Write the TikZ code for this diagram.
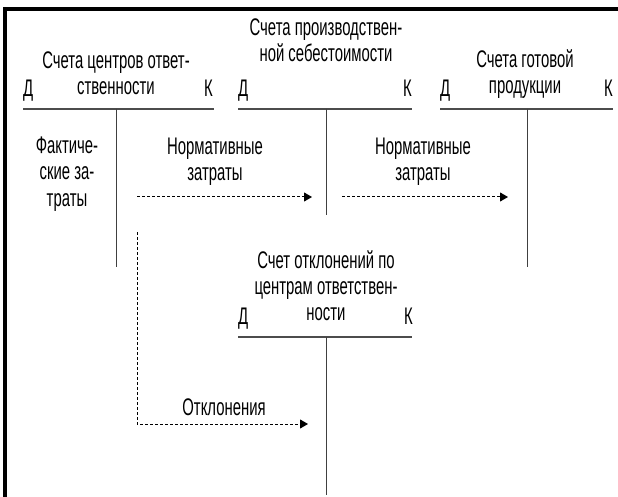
\documentclass[tikz,border=0pt]{standalone}
\usepackage{fontspec}
\setmainfont{Liberation Sans}[FakeStretch=0.62]
\usetikzlibrary{arrows.meta}
\begin{document}
\begin{tikzpicture}[x=1pt,y=-1pt,
 lbl/.style={inner sep=0pt, align=center, font=\fontsize{24}{26}\selectfont},
 dk/.style={inner sep=0pt, font=\fontsize{24}{26}\selectfont},
 tline/.style={draw=black!70, line width=1.6pt},
 vline/.style={draw=black!75, line width=0.9pt},
 flow/.style={draw=black, line width=1pt, dash pattern=on 3pt off 2pt, -{Triangle[length=8pt,width=9pt]}}
]
\useasboundingbox (0,0) rectangle (618,497);
\fill (3,7) rectangle (618,11);
\fill (3,7) rectangle (7,497);
% account 1
\coordinate (a1l) at (23,109); \coordinate (a1r) at (214,109);
\coordinate (a1t) at (116,109); \coordinate (a1b) at (116,267);
\draw[tline] (a1l) -- (a1r); \draw[vline] (a1t) -- (a1b);
\node[lbl, anchor=base] (a1) at (116,95) {Счета центров ответ-\\ственности};
\node[dk, anchor=base west] (a1d) at (23,97) {Д};
\node[dk, anchor=base east] (a1k) at (213,97) {К};
% account 2
\coordinate (a2l) at (238,109); \coordinate (a2r) at (412,109);
\coordinate (a2t) at (326,109); \coordinate (a2b) at (326,215);
\draw[tline] (a2l) -- (a2r); \draw[vline] (a2t) -- (a2b);
\node[lbl, anchor=base] (a2) at (326,62) {Счета производствен-\\ной себестоимости};
\node[dk, anchor=base west] (a2d) at (238,97) {Д};
\node[dk, anchor=base east] (a2k) at (412,97) {К};
% account 3
\coordinate (a3l) at (440,109); \coordinate (a3r) at (613,109);
\coordinate (a3t) at (527,109); \coordinate (a3b) at (527,267);
\draw[tline] (a3l) -- (a3r); \draw[vline] (a3t) -- (a3b);
\node[lbl, anchor=base] (a3) at (525,94) {Счета готовой\\продукции};
\node[dk, anchor=base west] (a3d) at (440,97) {Д};
\node[dk, anchor=base east] (a3k) at (613,97) {К};
% account 4
\coordinate (a4l) at (238,337); \coordinate (a4r) at (412,337);
\coordinate (a4t) at (326,337); \coordinate (a4b) at (326,495);
\draw[tline] (a4l) -- (a4r); \draw[vline] (a4t) -- (a4b);
\node[lbl, anchor=base] (a4) at (326,320) {Счет отклонений по\\центрам ответствен-\\ности};
\node[dk, anchor=base west] (a4d) at (238,324) {Д};
\node[dk, anchor=base east] (a4k) at (413,324) {К};
% entries
\node[lbl, anchor=base] (fz) at (67,206) {Фактиче-\\ские за-\\траты};
\node[lbl, anchor=base] (nz1) at (215,181) {Нормативные\\затраты};
\node[lbl, anchor=base] (nz2) at (423,181) {Нормативные\\затраты};
\node[lbl, anchor=base] (ot) at (224,415) {Отклонения};
% flows
\coordinate (f1s) at (137,197); \coordinate (f1e) at (312,197);
\coordinate (f2s) at (342,197); \coordinate (f2e) at (508,197);
\coordinate (f3s) at (137,232); \coordinate (f3c) at (137,424); \coordinate (f3e) at (308,424);
\draw[flow] (f1s) -- (f1e);
\draw[flow] (f2s) -- (f2e);
\draw[flow] (f3s) -- (f3c) -- (f3e);
\end{tikzpicture}
\end{document}
